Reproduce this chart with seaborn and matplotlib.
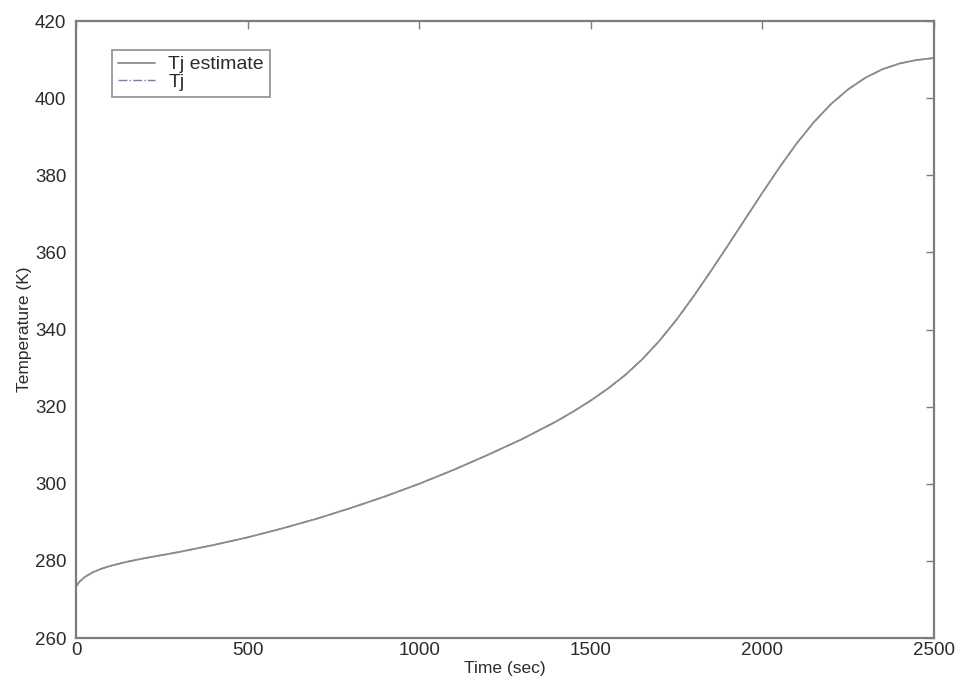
import matplotlib
matplotlib.use("Agg")
import matplotlib.pyplot as plt
import seaborn as sns
import pandas as pd

# Junction temperature over time (sec, K)
time_sec = [0, 10, 25, 50, 75, 100, 150, 200, 300, 400, 500, 600, 700, 800,
            900, 1000, 1100, 1200, 1300, 1400, 1450, 1500, 1550, 1600, 1650,
            1700, 1750, 1800, 1850, 1900, 1950, 2000, 2050, 2100, 2150, 2200,
            2250, 2300, 2350, 2400, 2450, 2500]
tj_estimate = [273.4, 274.6, 275.8, 277.1, 278.0, 278.7, 279.8, 280.7, 282.3,
               284.1, 286.1, 288.4, 290.9, 293.7, 296.7, 300.0, 303.6, 307.5,
               311.6, 316.2, 318.8, 321.6, 324.7, 328.2, 332.3, 337.1, 342.6,
               348.7, 355.2, 361.9, 368.7, 375.5, 382.1, 388.3, 393.8, 398.5,
               402.3, 405.3, 407.5, 409.0, 409.9, 410.4]
tj_actual = list(tj_estimate)

x_ticks = [0, 500, 1000, 1500, 2000, 2500]
y_ticks = [260, 280, 300, 320, 340, 360, 380, 400, 420]

df = pd.DataFrame({"time": time_sec, "est": tj_estimate, "act": tj_actual})

sns.set_style("white")
plt.rcParams["font.family"] = ["Liberation Sans", "DejaVu Sans"]

fig = plt.figure(figsize=(9.59, 6.89), dpi=100)
ax = fig.add_axes([0.0793, 0.074, 0.8947, 0.8955])

edge = "#7d7d7d"
text_c = "#2b2b2b"
sns.lineplot(data=df, x="time", y="act", ax=ax, color="#6f7fb0", lw=1.0,
             linestyle="-.", label="Tj")
sns.lineplot(data=df, x="time", y="est", ax=ax, color="#8c8c8c", lw=1.3,
             label="Tj estimate")

ax.set_xlim(0, 2500)
ax.set_ylim(260, 420)
ax.set_xticks(x_ticks)
ax.set_yticks(y_ticks)
ax.set_xlabel("Time (sec)", fontsize=12.5, color=text_c, labelpad=1)
ax.set_ylabel("Temperature (K)", fontsize=12.5, color=text_c, labelpad=2)
ax.tick_params(axis="both", direction="in", length=6, width=1, color=edge,
               labelsize=13.5, labelcolor=text_c, top=True, right=True)
ax.tick_params(axis="y", pad=7)
ax.tick_params(axis="x", pad=3)
for s in ax.spines.values():
    s.set_color(edge)
    s.set_linewidth(1.6)

handles, labels = ax.get_legend_handles_labels()
order = [labels.index("Tj estimate"), labels.index("Tj")]
leg = ax.legend([handles[i] for i in order], [labels[i] for i in order],
                loc="upper left", bbox_to_anchor=(0.042, 0.953),
                borderaxespad=0, fontsize=14, frameon=True, fancybox=False,
                handlelength=1.9, borderpad=0.3, labelspacing=0.0,
                handletextpad=0.7)
leg.get_frame().set_edgecolor(edge)
leg.get_frame().set_linewidth(1.3)
for t in leg.get_texts():
    t.set_color(text_c)

fig.savefig("out.png", dpi=100)
